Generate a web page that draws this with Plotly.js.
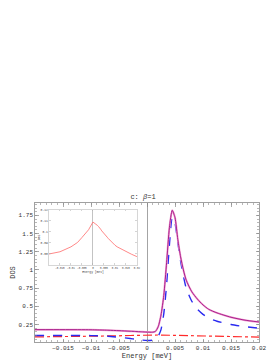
<!DOCTYPE html>
<html>
<head>
<meta charset="utf-8">
<script src="https://cdn.plot.ly/plotly-3.0.1.min.js"></script>
<style>html,body{margin:0;padding:0;background:#fff;}#chart{width:274px;height:361px;}</style>
</head>
<body>
<div id="chart"></div>
<script>
// Energy grid (meV)
const energy = [-0.02, -0.015, -0.01, -0.007, -0.005, -0.003, -0.002, -0.001, 0, 0.001, 0.0015, 0.002, 0.0025, 0.003, 0.0035, 0.004, 0.0045, 0.005, 0.0055, 0.006, 0.0065, 0.007, 0.008, 0.009, 0.01, 0.011, 0.0125, 0.015, 0.0175, 0.02];
// Total DOS (solid magenta)
const dosTotal = [0.18, 0.18, 0.178, 0.172, 0.166, 0.158, 0.154, 0.15, 0.146, 0.145, 0.155, 0.22, 0.38, 0.65, 1.1, 1.58, 1.82, 1.72, 1.42, 1.18, 1.0, 0.86, 0.7, 0.6, 0.52, 0.46, 0.41, 0.35, 0.31, 0.285];
// Dashed blue
const dosBlue = [0.1, 0.1, 0.098, 0.09, 0.075, 0.058, 0.048, 0.038, 0.03, 0.035, 0.055, 0.09, 0.18, 0.4, 0.8, 1.34, 1.72, 1.64, 1.38, 1.12, 0.92, 0.75, 0.57, 0.46, 0.39, 0.34, 0.295, 0.25, 0.22, 0.2];
// Dash-dot red (also shown magnified in inset)
const dosRed = [0.08, 0.082, 0.0865, 0.0905, 0.095, 0.0995, 0.102, 0.1055, 0.109, 0.1075, 0.107, 0.106, 0.105, 0.104, 0.1025, 0.101, 0.1, 0.099, 0.0977, 0.0965, 0.0952, 0.094, 0.0918, 0.0898, 0.088, 0.0865, 0.0848, 0.082, 0.0798, 0.0776];

const xTickVals = [-0.015, -0.01, -0.005, 0, 0.005, 0.01, 0.015, 0.02];
const xTickText = ["\u22120.015", "\u22120.01", "\u22120.005", "0", "0.005", "0.01", "0.015", "0.02"];
const yTickVals = [0.25, 0.5, 0.75, 1, 1.25, 1.5, 1.75];
const yTickText = ["0.25", "0.5", "0.75", "1", "1.25", "1.5", "1.75"];
const insetYTickVals = [0.08, 0.09, 0.1, 0.11, 0.12];
const insetYTickText = ["0.08", "0.09", "0.1", "0.11", "0.12"];

const mono = "Liberation Mono, DejaVu Sans Mono, monospace";

const traces = [
  {x: energy, y: dosRed, mode: 'lines', line: {color: '#ff2a2a', width: 1.2, dash: 'dashdot'}, xaxis: 'x', yaxis: 'y', hoverinfo: 'skip'},
  {x: energy, y: dosBlue, mode: 'lines', line: {color: '#2a2af0', width: 1.4, dash: 'dash', shape: 'spline', smoothing: 0.6}, xaxis: 'x', yaxis: 'y', hoverinfo: 'skip'},
  {x: energy, y: dosTotal, mode: 'lines', line: {color: '#f2a0d2', width: 2.0, shape: 'spline', smoothing: 0.6}, xaxis: 'x', yaxis: 'y', hoverinfo: 'skip'},
  {x: energy, y: dosTotal, mode: 'lines', line: {color: '#a8208c', width: 1.0, shape: 'spline', smoothing: 0.6}, xaxis: 'x', yaxis: 'y', hoverinfo: 'skip'},
  {x: energy, y: dosRed, mode: 'lines', line: {color: '#ff6a6a', width: 0.8}, xaxis: 'x2', yaxis: 'y2', hoverinfo: 'skip'}
];

const layout = {
  width: 274, height: 361,
  margin: {l: 35, r: 15, t: 203, b: 19},
  paper_bgcolor: '#fff', plot_bgcolor: '#fff',
  showlegend: false,
  font: {family: mono, color: '#333', size: 6},
  title: {text: 'c: <i>\u03b2</i>=1', font: {family: mono, size: 7, color: '#333'}, x: 0.522, xanchor: 'center', y: 1 - 196.5/361, yanchor: 'middle'},
  xaxis: {
    range: [-0.02, 0.02], domain: [0, 1],
    tickvals: xTickVals, ticktext: xTickText, tickangle: 0,
    ticks: 'inside', ticklen: 3.5, tickcolor: '#888', tickwidth: 0.7,
    minor: {dtick: 0.001, ticks: 'inside', ticklen: 2, tickcolor: '#888', tickwidth: 0.6},
    showline: true, linecolor: '#888', linewidth: 0.8, mirror: 'allticks',
    showgrid: false, zeroline: true, zerolinecolor: '#9a9a9a', zerolinewidth: 0.9,
    tickfont: {family: mono, size: 6, color: '#333'},
    title: {text: 'Energy [meV]', font: {family: mono, size: 7, color: '#333'}, standoff: 1}
  },
  yaxis: {
    range: [0.01, 1.92], domain: [0, 1],
    tickvals: yTickVals, ticktext: yTickText,
    ticks: 'inside', ticklen: 3.5, tickcolor: '#888', tickwidth: 0.7,
    minor: {dtick: 0.05, ticks: 'inside', ticklen: 2, tickcolor: '#888', tickwidth: 0.6},
    showline: true, linecolor: '#888', linewidth: 0.8, mirror: 'allticks',
    showgrid: false, zeroline: false,
    tickfont: {family: mono, size: 6, color: '#333'},
    title: {text: 'DOS', font: {family: mono, size: 7, color: '#333'}, standoff: 2}
  },
  xaxis2: {
    range: [-0.02, 0.02], domain: [0.0625, 0.455], anchor: 'y2',
    tickvals: xTickVals, ticktext: xTickText, tickangle: 0,
    ticks: 'inside', ticklen: 1.5, tickcolor: '#aaa', tickwidth: 0.5,
    showline: true, linecolor: '#bbb', linewidth: 0.6, mirror: 'ticks',
    showgrid: false, zeroline: true, zerolinecolor: '#aaa', zerolinewidth: 0.7,
    tickfont: {family: mono, size: 2.6, color: '#444'},
    title: {text: 'Energy [meV]', font: {family: mono, size: 3, color: '#444'}, standoff: 0}
  },
  yaxis2: {
    range: [0.07, 0.12], domain: [0.554, 0.95], anchor: 'x2',
    tickvals: insetYTickVals, ticktext: insetYTickText,
    ticks: 'inside', ticklen: 1.5, tickcolor: '#aaa', tickwidth: 0.5,
    showline: true, linecolor: '#bbb', linewidth: 0.6, mirror: 'ticks',
    showgrid: false, zeroline: false,
    tickfont: {family: mono, size: 3, color: '#444'},
    title: {text: 'DOS', font: {family: mono, size: 3, color: '#444'}, standoff: 0}
  },
  shapes: [
    {type: 'rect', xref: 'paper', yref: 'paper', x0: 0.0625, x1: 0.455, y0: 0.554, y1: 0.95, fillcolor: '#fff', line: {width: 0}, layer: 'below'}
  ]
};

Plotly.newPlot('chart', traces, layout, {displayModeBar: false, staticPlot: true});
</script>
</body>
</html>
